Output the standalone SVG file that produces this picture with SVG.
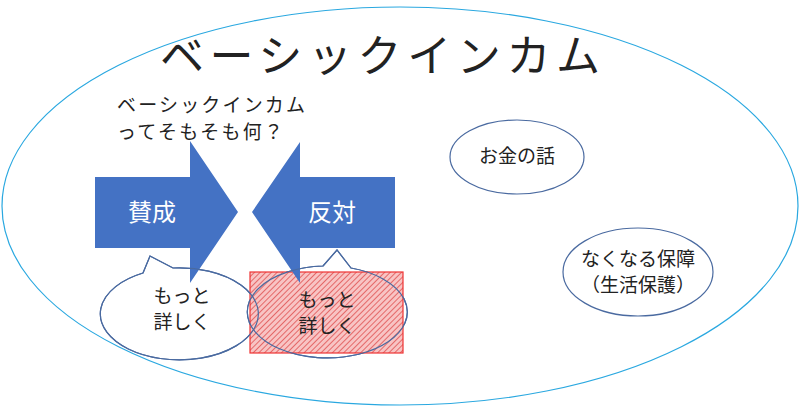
<svg xmlns="http://www.w3.org/2000/svg" width="800" height="417" viewBox="0 0 800 417">
<defs>
<style>
text{font-family:"Noto Sans CJK JP","Noto Sans",sans-serif;fill:#222}
.arr{fill:#4472c4}
.ell{fill:#fff;stroke:#4a6aa0;stroke-width:1.2}
.ln{fill:none;stroke:#4a6aa0;stroke-width:1.2}
.w{fill:#fff;font-size:24px}
.b{font-size:19px}
</style>
<pattern id="hatch" width="4" height="4" patternUnits="userSpaceOnUse" patternTransform="rotate(45)">
<rect width="4" height="4" fill="#f8c4c4"/><line x1="0" y1="0" x2="0" y2="4" stroke="#e05050" stroke-width="1.6"/>
</pattern>
</defs>
<rect width="800" height="417" fill="#fff"/>
<g id="outer"><ellipse cx="400" cy="206" rx="398" ry="199" fill="none" stroke="#2aa8e0" stroke-width="1.2"/>
<text x="160" y="72" font-size="44" textLength="440">ベーシックインカム</text></g>
<g id="question"><text x="117" y="112" font-size="19" textLength="188">ベーシックインカム</text>
<text x="117" y="139" font-size="19" textLength="166">ってそもそも何？</text></g>
<g id="bubble1"><path class="ell" d="M143,273 L150,256 L173,268 A79,46 0 1 1 143,273 Z"/></g>
<g id="bubble2-fill"><path class="ell" d="M323,266 L337,250 L351,268 A80,46 0 1 1 323,266 Z"/></g>
<g id="detail2"><rect x="250" y="272" width="153" height="81" fill="url(#hatch)" stroke="#ee3333" stroke-width="1.2"/></g>
<g id="pro"><polygon class="arr" points="95,177 190,177 190,141 238,212 190,283 190,248 95,248"/><text class="w" x="128" y="221">賛成</text></g>
<g id="con"><polygon class="arr" points="395,177 300,177 300,142 252,212 300,283 300,248 395,248"/><text class="w" x="308" y="221">反対</text></g>
<g id="outlines">
<path class="ln" d="M143,273 L150,256 L173,268 A79,46 0 1 1 143,273 Z"/>
<path class="ln" d="M323,266 L337,250 L351,268 A80,46 0 1 1 323,266 Z"/>
</g>
<g id="t1"><text class="b" x="182" y="303" text-anchor="middle">もっと</text><text class="b" x="182" y="329" text-anchor="middle">詳しく</text></g>
<g id="t2"><text class="b" x="327" y="307" text-anchor="middle">もっと</text><text class="b" x="327" y="333" text-anchor="middle">詳しく</text></g>
<g id="money"><ellipse class="ell" cx="517" cy="157" rx="67" ry="37"/><text class="b" x="517" y="163" text-anchor="middle">お金の話</text></g>
<g id="loss"><ellipse class="ell" cx="638" cy="272" rx="75" ry="44"/><text class="b" x="638" y="266" text-anchor="middle">なくなる保障</text><text class="b" x="638" y="292" text-anchor="middle">（生活保護）</text></g>
</svg>
